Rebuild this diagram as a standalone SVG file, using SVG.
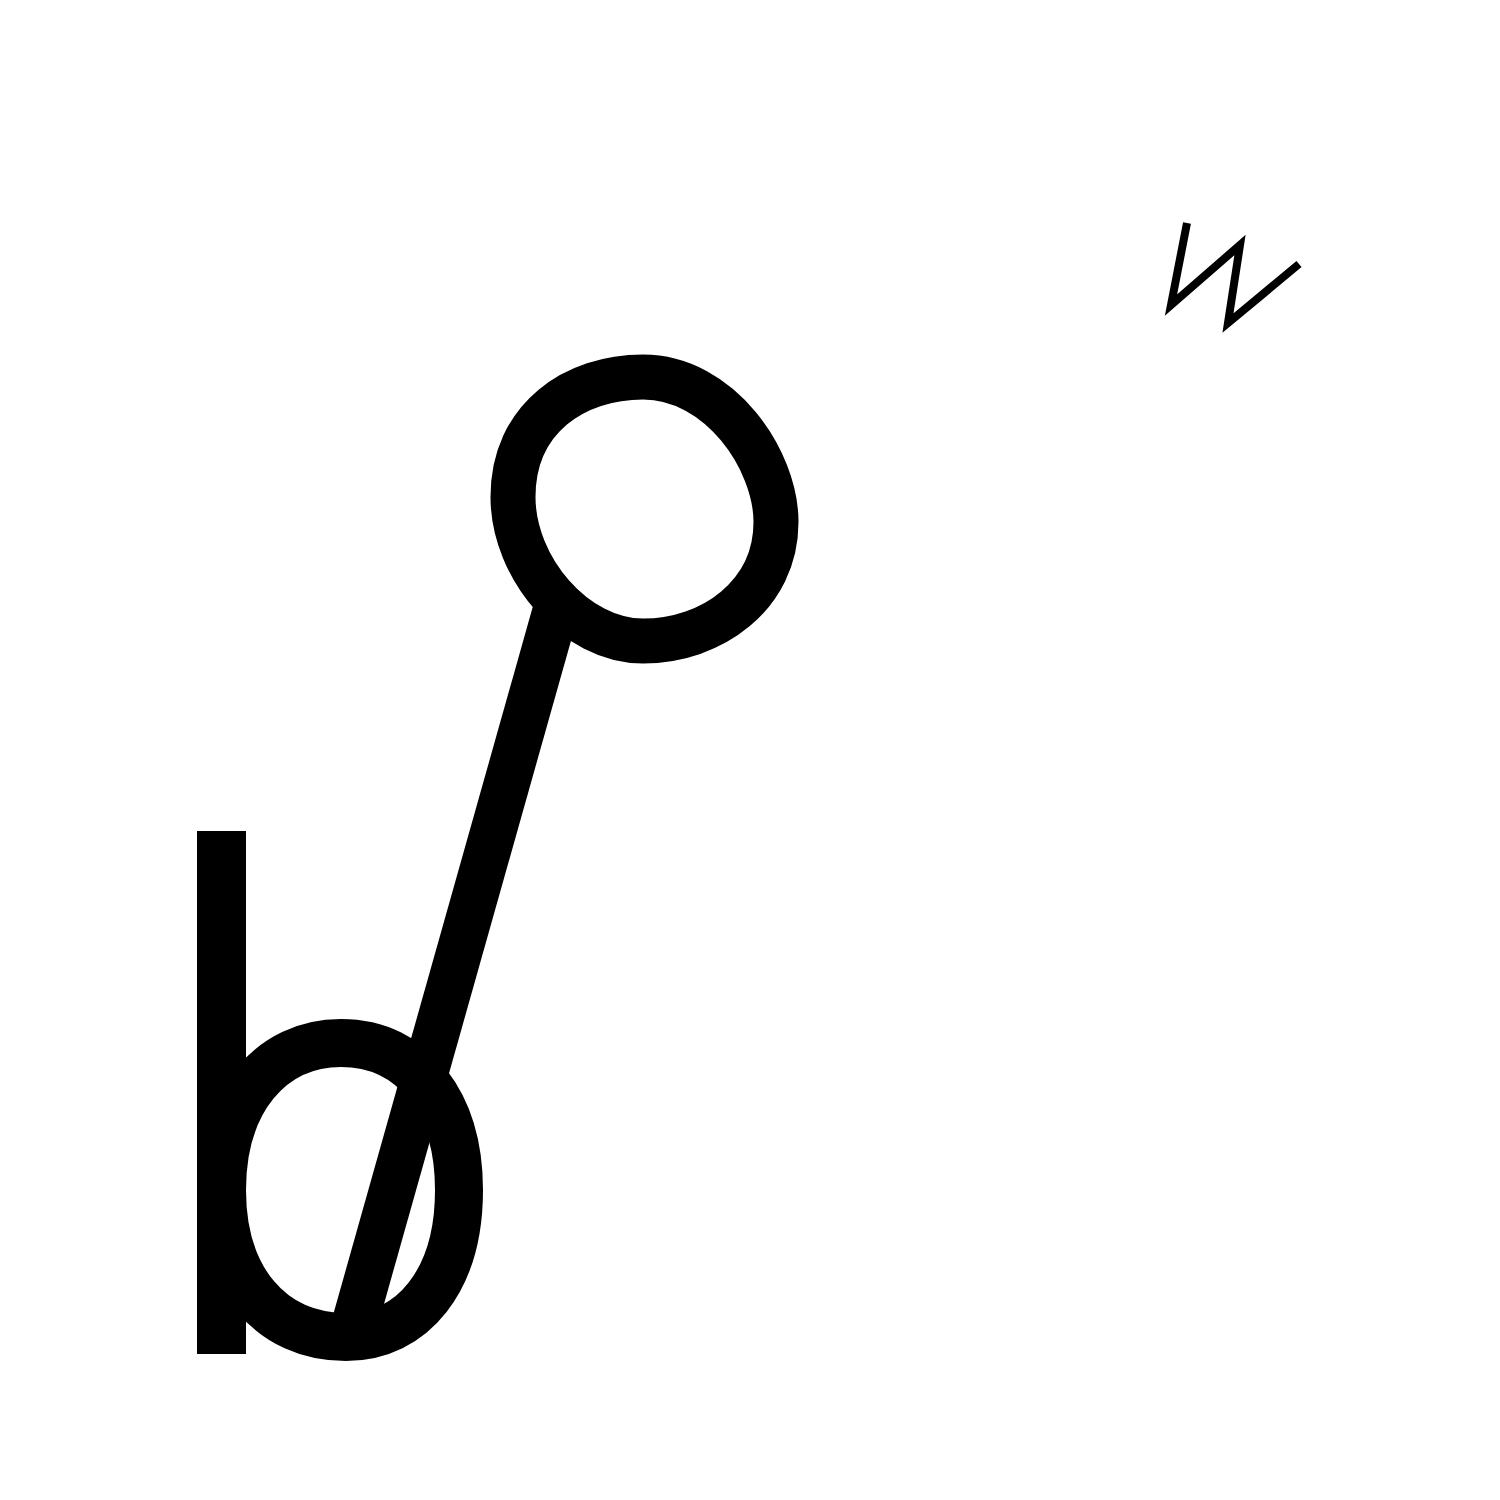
<svg xmlns="http://www.w3.org/2000/svg" width="1500" height="1500" viewBox="0 0 1500 1500">
<style>
.ink{fill:none;stroke:#000;stroke-linecap:butt;stroke-linejoin:miter}
</style>
<rect x="0" y="0" width="1500" height="1500" fill="#fff"/>
<g id="b-shape">
<rect x="197" y="831" width="49" height="523" fill="#000"/>
<path class="ink" stroke-width="48" d="M 341,1043 C 415,1043 459,1105 459,1190 C 459,1280 413,1337 346,1337 C 270,1337 222,1278 222,1190 C 222,1102 270,1043 341,1043 Z"/>
</g>
<g id="ring">
<path class="ink" stroke-width="45" d="M 643,377 C 720,377 776,460 776,522 C 776,595 712,641 643,641 C 575,641 513,568 513,497 C 513,418 575,377 643,377 Z"/>
</g>
<g id="connectors">
<line class="ink" stroke-width="46" x1="560" y1="595" x2="355" y2="1322"/>
</g>
<g id="w-shape">
<polyline class="ink" stroke-width="8" points="1187,223 1171,305 1240,245 1228,323 1299,264"/>
</g>
</svg>
